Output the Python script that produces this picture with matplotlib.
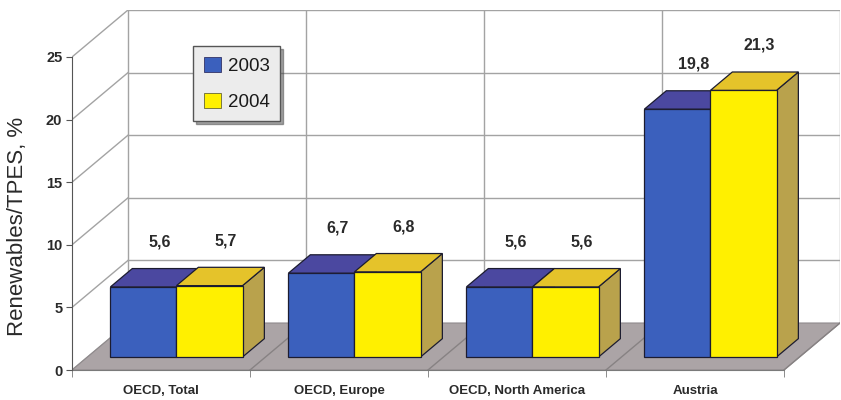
import matplotlib
matplotlib.use("Agg")
import matplotlib.pyplot as plt
from matplotlib.patches import Polygon, Patch

plt.rcParams['font.family'] = ['Liberation Sans', 'DejaVu Sans']

# ---- data ----
categories = ["OECD, Total", "OECD, Europe", "OECD, North America", "Austria"]
series_names = ["2003", "2004"]
values_2003 = [5.6, 6.7, 5.6, 19.8]
values_2004 = [5.7, 6.8, 5.6, 21.3]
value_labels_2003 = ["5,6", "6,7", "5,6", "19,8"]
value_labels_2004 = ["5,7", "6,8", "5,6", "21,3"]
yticks = [0, 5, 10, 15, 20, 25]

# ---- styling / geometry ----
front_colors = ["#3b60bd", "#fff000"]
top_colors = ["#4b48a0", "#e5c32a"]
side_colors = ["#2d4a95", "#b9a24c"]
edge = "#1c1c30"

n = len(categories)
DX = 56 / 178.0          # depth offset in category units
DY = 47 / 12.52          # depth offset in value units
f = 0.2766               # front face depth fraction
g = 0.39                 # bar depth fraction
w = 0.371                # bar width (category units)

fig = plt.figure(figsize=(8.41, 4.0), dpi=100)
ax = fig.add_axes([72 / 841, 0.075, 768 / 841, 0.9])
ax.set_xlim(0, n + DX)
ax.set_ylim(0, yticks[-1] + DY)

grid_c = "#a3a3a3"
# back wall horizontal gridlines
for v in yticks[1:]:
    ax.plot([DX, n + DX], [v + DY, v + DY], color=grid_c, lw=1.0, zorder=1)
# back wall vertical lines
for k in range(n + 1):
    ax.plot([k + DX, k + DX], [DY, yticks[-1] + DY], color=grid_c, lw=1.0, zorder=1)
# left wall diagonals
for v in yticks:
    ax.plot([0, DX], [v, v + DY], color=grid_c, lw=1.0, zorder=1)

# floor
floor = Polygon([(0, 0), (n, 0), (n + DX, DY), (DX, DY)], closed=True,
                facecolor="#aba4a6", edgecolor="#8f8a8c", lw=0.8, zorder=2)
ax.add_patch(floor)
for k in range(1, n + 1):
    ax.plot([k, k + DX], [0, DY], color="#878283", lw=1.0, zorder=2.1)

# bars
all_vals = [values_2003, values_2004]
all_labels = [value_labels_2003, value_labels_2004]
for i in range(n):
    for s in range(2):
        val = all_vals[s][i]
        x0 = i + 0.5 - w + s * w + f * DX
        b = f * DY
        top = b + val
        z = 3 + s
        side = Polygon([(x0 + w, b), (x0 + w + g * DX, b + g * DY),
                        (x0 + w + g * DX, top + g * DY), (x0 + w, top)],
                       closed=True, facecolor=side_colors[s], edgecolor=edge, lw=0.9, zorder=z)
        ax.add_patch(side)
        ax.bar(x0, val, width=w, bottom=b, align="edge", color=front_colors[s],
               edgecolor=edge, linewidth=0.9, zorder=z)
        topf = Polygon([(x0, top), (x0 + w, top), (x0 + w + g * DX, top + g * DY),
                        (x0 + g * DX, top + g * DY)],
                       closed=True, facecolor=top_colors[s], edgecolor=edge, lw=0.9, zorder=z)
        ax.add_patch(topf)
        ax.text(x0 + w / 2 + 0.09, top + 3.6, all_labels[s][i], ha="center", va="center",
                fontsize=11.5, fontweight="bold", color="#2a2a2a", zorder=6)

# axes / spines
for sp in ["top", "right"]:
    ax.spines[sp].set_visible(False)
ax.spines["left"].set_bounds(0, yticks[-1])
ax.spines["bottom"].set_bounds(0, n)
ax.spines["left"].set_color("#555555")
ax.spines["bottom"].set_color("#7a7a7a")
ax.spines["left"].set_zorder(5)
ax.set_yticks(yticks)
ax.set_yticklabels([str(t) for t in yticks])
ax.tick_params(axis="y", length=4, color="#555555", pad=3, labelsize=10.5, labelcolor="#2a2a2a")
for lab in ax.get_yticklabels():
    lab.set_fontweight("bold")

ax.set_xticks([i + 0.5 for i in range(n)])
ax.set_xticklabels(categories)
ax.set_xticks(list(range(n + 1)), minor=True)
ax.tick_params(axis="x", which="major", length=0, pad=11, labelsize=9.5, labelcolor="#2a2a2a")
ax.tick_params(axis="x", which="minor", length=5, color="#7a7a7a")
for lab in ax.get_xticklabels():
    lab.set_fontweight("bold")

ax.set_ylabel("Renewables/TPES, %", fontsize=16, color="#2a2a2a")
ax.yaxis.set_label_coords(-0.0573, 0.40)

handles = [Patch(facecolor=front_colors[0], edgecolor="#333366", lw=0.6),
           Patch(facecolor=front_colors[1], edgecolor="#666633", lw=0.6)]
leg = fig.legend(handles, series_names, loc="upper left",
                 bbox_to_anchor=(184 / 841, 1 - 37 / 400), fontsize=13.5,
                 frameon=True, fancybox=False, shadow=True,
                 handlelength=0.9, handleheight=0.9, handletextpad=0.4,
                 labelspacing=0.95, borderpad=0.55)
leg.get_frame().set_facecolor("#ececec")
leg.get_frame().set_edgecolor("#555555")
leg.get_frame().set_alpha(1)
leg.set_zorder(10)
for t in leg.get_texts():
    t.set_color("#1a1a1a")

fig.savefig("out.png", dpi=100, facecolor="white")
